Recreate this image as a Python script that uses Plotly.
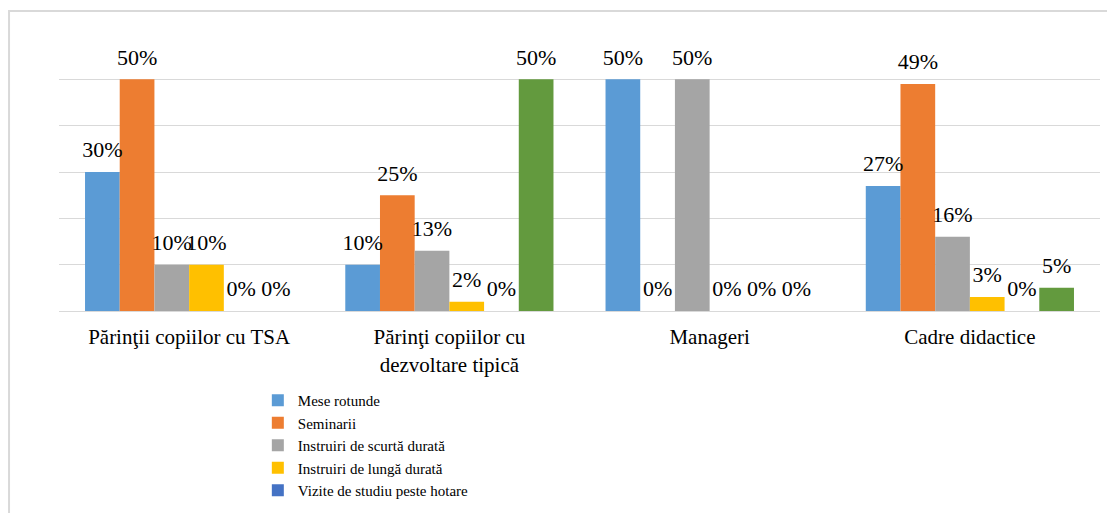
import plotly.graph_objects as go

categories = ["Părinţii copiilor cu TSA", "Părinţi copiilor cu<br>dezvoltare tipică", "Manageri", "Cadre didactice"]
series_names = ["Mese rotunde", "Seminarii", "Instruiri de scurtă durată",
                "Instruiri de lungă durată", "Vizite de studiu peste hotare", "Altele"]
mese_rotunde = [30, 10, 50, 27]
seminarii = [50, 25, 0, 49]
instruiri_scurta = [10, 13, 50, 16]
instruiri_lunga = [10, 2, 0, 3]
vizite_studiu = [0, 0, 0, 0]
altele = [0, 50, 0, 5]
series_values = [mese_rotunde, seminarii, instruiri_scurta, instruiri_lunga, vizite_studiu, altele]
colors = ["#5B9BD5", "#ED7D31", "#A5A5A5", "#FFC000", "#4472C4", "#639A3E"]

FONT = "Liberation Serif"

fig = go.Figure()
for i, (name, vals, col) in enumerate(zip(series_names, series_values, colors)):
    fig.add_trace(go.Bar(
        x=categories, y=vals, name=name, marker_color=col,
        marker_line_width=0, offsetgroup=str(i),
        showlegend=(i < 5), hoverinfo="skip"))
for i, vals in enumerate(series_values):
    fig.add_trace(go.Scatter(
        x=categories, y=vals, mode="markers+text",
        text=[f"{v}%" for v in vals], textposition="top center",
        textfont=dict(family=FONT, size=22, color="#000000"),
        marker=dict(size=13, color="rgba(0,0,0,0)"),
        offsetgroup=str(i), showlegend=False, hoverinfo="skip", cliponaxis=False))

fig.update_layout(
    width=1107, height=505,
    margin=dict(l=51, r=15, t=25, b=202, autoexpand=False),
    barmode="group", bargap=0.2, bargroupgap=0,
    scattermode="group", scattergap=0.2,
    paper_bgcolor="white", plot_bgcolor="white",
    font=dict(family=FONT, color="#000000"),
    legend=dict(x=0.191, y=-0.263, xanchor="left", yanchor="top",
                font=dict(family=FONT, size=15, color="#000000"),
                bgcolor="rgba(0,0,0,0)", itemwidth=30, tracegroupgap=0),
    shapes=[dict(type="rect", xref="paper", yref="paper",
                 x0=-0.048, x1=1.03, y0=-0.8, y1=1.079,
                 line=dict(color="#D9D9D9", width=2), layer="below")],
)
fig.update_xaxes(showline=True, linecolor="#D9D9D9", linewidth=1, ticks="",
                 tickfont=dict(family=FONT, size=21, color="#000000"),
                 ticklabelstandoff=7, showgrid=False)
fig.update_yaxes(range=[0, 60], dtick=10, showticklabels=False,
                 gridcolor="#D9D9D9", gridwidth=1, zeroline=False)

fig.write_html("out.html")
